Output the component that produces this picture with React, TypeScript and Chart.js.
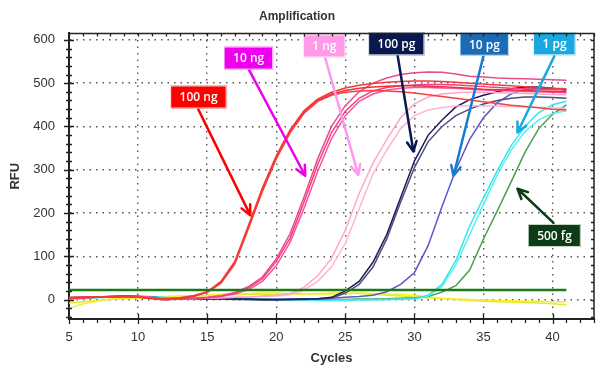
import { useEffect, useRef } from 'react';
import { Chart, registerables } from 'chart.js';
Chart.register(...registerables);

const FONT = "'Liberation Sans', Arial, sans-serif";
const TITLE = 'Amplification';
const X_TITLE = 'Cycles';
const Y_TITLE = 'RFU';
const X_MIN = 5;
const X_MAX = 43;
const Y_MIN = -45;
const Y_MAX = 615;
const X_TICKS = [5, 10, 15, 20, 25, 30, 35, 40];
const Y_TICKS = [0, 100, 200, 300, 400, 500, 600];
const THRESHOLD = 22;
const THRESHOLD_RANGE = [5, 41];

const CYCLES = [5, 6, 7, 8, 9, 10, 11, 12, 13, 14, 15, 16, 17, 18, 19, 20, 21, 22, 23, 24, 25, 26, 27, 28, 29, 30, 31, 32, 33, 34, 35, 36, 37, 38, 39, 40, 41];

const RED_1 = [5, 5, 6, 7, 7, 6, 3, 1, 4, 9, 18, 42, 88, 172, 258, 332, 392, 436, 463, 479, 489, 495, 499, 502, 504, 505, 505, 504, 502, 500, 498, 496, 494, 492, 490, 488, 487];
const RED_2 = [4, 5, 5, 6, 8, 7, 4, 0, 3, 8, 16, 38, 82, 165, 250, 325, 385, 430, 458, 472, 479, 482, 483, 482, 480, 477, 473, 469, 465, 461, 457, 453, 449, 446, 443, 440, 438];
const RED_3 = [3, 4, 6, 7, 8, 6, 2, -1, 2, 7, 17, 40, 85, 168, 253, 328, 388, 432, 460, 475, 483, 488, 491, 493, 494, 494, 493, 492, 490, 488, 486, 485, 484, 483, 482, 481, 480];
const PINK_1 = [4, 4, 5, 6, 6, 5, 3, 2, 2, 3, 5, 9, 16, 30, 52, 94, 152, 236, 325, 400, 448, 480, 500, 512, 520, 524, 526, 525, 521, 516, 514, 512, 511, 510, 509, 508, 507];
const PINK_2 = [3, 4, 5, 5, 6, 6, 4, 2, 1, 3, 4, 8, 15, 27, 48, 88, 142, 224, 312, 386, 435, 465, 482, 490, 494, 496, 497, 497, 496, 494, 492, 490, 488, 487, 486, 485, 485];
const PINK_3 = [4, 5, 5, 6, 7, 6, 3, 1, 1, 2, 4, 7, 13, 23, 42, 78, 132, 210, 296, 372, 425, 458, 475, 484, 488, 490, 490, 489, 488, 486, 484, 483, 482, 481, 480, 479, 478];
const LPINK_1 = [3, 4, 5, 6, 6, 6, 4, 3, 2, 2, 3, 4, 5, 6, 8, 10, 14, 28, 55, 95, 160, 245, 315, 370, 420, 452, 468, 475, 478, 479, 479, 478, 477, 476, 475, 474, 473];
const LPINK_2 = [4, 4, 5, 5, 6, 7, 5, 3, 2, 3, 3, 4, 5, 6, 7, 8, 11, 22, 42, 75, 130, 210, 290, 345, 395, 425, 438, 444, 447, 448, 448, 447, 446, 445, 444, 443, 442];
const NAVY_1 = [4, 5, 6, 7, 8, 7, 5, 3, 2, 2, 2, 2, 1, 1, 0, 0, 0, 1, 2, 5, 20, 42, 86, 150, 235, 320, 380, 415, 445, 462, 472, 480, 487, 491, 491, 488, 484];
const NAVY_2 = [3, 4, 5, 6, 7, 7, 5, 3, 2, 1, 1, 1, 0, 0, -1, -1, 0, 0, 1, 3, 15, 35, 75, 140, 225, 305, 365, 400, 425, 440, 452, 460, 465, 468, 468, 467, 465];
const SLATE = [3, 4, 5, 6, 7, 6, 5, 3, 2, 1, 1, 1, 1, 0, 0, 0, 1, 1, 2, 3, 5, 7, 10, 18, 35, 62, 125, 215, 300, 370, 420, 455, 475, 485, 488, 487, 485];
const CYAN_1 = [2, 3, 4, 6, 8, 8, 6, 4, 3, 2, 2, 1, 1, 1, 0, 0, 0, 0, -1, -1, -1, 0, 0, 0, 1, 2, 10, 35, 90, 170, 235, 298, 355, 400, 432, 450, 458];
const CYAN_2 = [1, 2, 4, 5, 7, 8, 7, 5, 3, 2, 1, 1, 1, 0, 0, -1, -1, -1, -2, -2, -2, -1, -1, 0, 0, 1, 8, 30, 80, 150, 220, 288, 345, 388, 415, 430, 436];
const GREEN = [3, 4, 5, 6, 6, 6, 5, 4, 3, 2, 2, 2, 1, 1, 1, 0, 0, 0, 0, 0, 0, 1, 1, 2, 3, 4, 7, 17, 32, 68, 140, 205, 272, 340, 395, 428, 450];
const YELLOW_1 = [-20, -10, -4, 1, 3, 5, 6, 7, 8, 9, 10, 12, 13, 14, 15, 15, 14, 14, 13, 13, 14, 15, 14, 13, 12, 10, 6, 3, 1, 0, -1, -2, -3, -4, -4, -5, -5];
const YELLOW_2 = [-8, -5, -2, 0, 2, 3, 4, 5, 6, 8, 9, 10, 11, 12, 12, 12, 12, 13, 14, 15, 15, 14, 12, 10, 8, 6, 4, 2, 0, -2, -4, -5, -6, -7, -8, -10, -12];

const SERIES = [
  { values: RED_1, color: '#f23a3a' },
  { values: RED_2, color: '#f44040' },
  { values: RED_3, color: '#e8303c' },
  { values: PINK_1, color: '#ec4a8c' },
  { values: PINK_2, color: '#f23c86' },
  { values: PINK_3, color: '#f5559a' },
  { values: LPINK_1, color: '#ffa6cc' },
  { values: LPINK_2, color: '#ffb4d4' },
  { values: NAVY_1, color: '#1c1c58' },
  { values: NAVY_2, color: '#4e4e7c' },
  { values: SLATE, color: '#5a58c8' },
  { values: CYAN_1, color: '#34e6ee' },
  { values: CYAN_2, color: '#5cf0f4' },
  { values: GREEN, color: '#4e9c4e' },
  { values: YELLOW_1, color: '#f2f020' },
  { values: YELLOW_2, color: '#e8e830' },
];

// Annotations (data coordinates)
const ANN_LABELS = ['100 ng', '10 ng', '1 ng', '100 pg', '10 pg', '1 pg', '500 fg'];
const ANN_BOX_CYCLE = [14.38, 18.0, 23.48, 28.7, 35.07, 40.14, 40.14];
const ANN_BOX_RFU = [468, 558, 586, 591, 590, 591, 148];
const ANN_TAIL_CYCLE = [14.35, 18.04, 23.55, 28.77, 35.0, 40.14, 40.07];
const ANN_TAIL_RFU = [440, 530, 558, 567, 563, 563, 177];
const ANN_TIP_CYCLE = [18.12, 22.1, 25.94, 29.93, 32.83, 37.46, 37.46];
const ANN_TIP_RFU = [195, 286, 288, 342, 286, 386, 256];
const ANN_BOX_COLORS = ['#ff0000', '#ee00ee', '#ff9be8', '#0a1850', '#1a6cb8', '#1aa8e0', '#0d3b14'];
const ANN_ARROW_COLORS = ['#ff0000', '#ee00ee', '#ff99ee', '#0a1850', '#1a7ad0', '#1aa8e0', '#0d3b14'];

const frameTicks = {
  id: 'frameTicks',
  afterDraw(chart: any) {
    const { ctx, chartArea: a, scales } = chart;
    const x = scales.x;
    const y = scales.y;
    ctx.save();
    ctx.strokeStyle = '#222';
    ctx.lineWidth = 1.5;
    ctx.beginPath();
    ctx.moveTo(a.left, a.top);
    ctx.lineTo(a.right, a.top);
    ctx.lineTo(a.right, a.bottom);
    ctx.stroke();
    ctx.lineWidth = 1.3;
    ctx.beginPath();
    for (let c = X_MIN; c <= X_MAX; c += 1) {
      const px = Math.round(x.getPixelForValue(c)) + 0.5;
      const major = c % 5 === 0;
      ctx.moveTo(px, a.bottom - (major ? 5 : 1));
      ctx.lineTo(px, a.bottom + (major ? 5 : 4));
      ctx.moveTo(px, a.top);
      ctx.lineTo(px, a.top + 3);
    }
    for (let v = -40; v <= 600; v += 20) {
      const py = Math.round(y.getPixelForValue(v)) + 0.5;
      const major = v % 100 === 0;
      ctx.moveTo(a.left - (major ? 5 : 3), py);
      ctx.lineTo(a.left + (major ? 5 : 3), py);
      ctx.moveTo(a.right, py);
      ctx.lineTo(a.right - 3, py);
    }
    ctx.stroke();
    ctx.restore();
  },
};

const annotations = {
  id: 'annotations',
  afterDatasetsDraw(chart: any) {
    const { ctx, scales } = chart;
    const x = scales.x;
    const y = scales.y;
    ctx.save();
    ctx.font = "600 12px 'Open Sans', 'Noto Sans', sans-serif";
    ANN_LABELS.forEach((label, i) => {
      const tx = x.getPixelForValue(ANN_TAIL_CYCLE[i]);
      const ty = y.getPixelForValue(ANN_TAIL_RFU[i]);
      const hx = x.getPixelForValue(ANN_TIP_CYCLE[i]);
      const hy = y.getPixelForValue(ANN_TIP_RFU[i]);
      ctx.strokeStyle = ANN_ARROW_COLORS[i];
      ctx.lineWidth = 2.5;
      ctx.lineCap = 'round';
      ctx.lineJoin = 'round';
      ctx.beginPath();
      ctx.moveTo(tx, ty);
      ctx.lineTo(hx, hy);
      const ang = Math.atan2(hy - ty, hx - tx);
      const len = 11;
      const spread = 0.45;
      ctx.moveTo(hx - len * Math.cos(ang - spread), hy - len * Math.sin(ang - spread));
      ctx.lineTo(hx, hy);
      ctx.lineTo(hx - len * Math.cos(ang + spread), hy - len * Math.sin(ang + spread));
      ctx.stroke();

      const bx = x.getPixelForValue(ANN_BOX_CYCLE[i]);
      const by = y.getPixelForValue(ANN_BOX_RFU[i]);
      const w = ctx.measureText(label).width + 18;
      const h = 23;
      ctx.fillStyle = ANN_BOX_COLORS[i];
      ctx.fillRect(bx - w / 2, by - h / 2, w, h);
      ctx.strokeStyle = 'rgba(255,255,255,0.8)';
      ctx.lineWidth = 1;
      ctx.strokeRect(bx - w / 2 + 0.5, by - h / 2 + 0.5, w - 1, h - 1);
      ctx.fillStyle = '#ffffff';
      ctx.textAlign = 'center';
      ctx.textBaseline = 'middle';
      ctx.fillText(label, bx, by + 1);
    });
    ctx.restore();
  },
};

export default function App() {
  const ref = useRef<HTMLCanvasElement>(null);
  useEffect(() => {
    if (!ref.current) return;
    const datasets: any[] = [
      {
        data: THRESHOLD_RANGE.map((c) => ({ x: c, y: THRESHOLD })),
        borderColor: '#1a7a1a',
        borderWidth: 2.5,
        pointRadius: 0,
      },
      ...SERIES.map((s) => ({
        data: CYCLES.map((c, i) => ({ x: c, y: s.values[i] })),
        borderColor: s.color,
        borderWidth: 1.5,
        pointRadius: 0,
        tension: 0,
      })),
    ];
    const chart = new Chart(ref.current, {
      type: 'line',
      data: { datasets },
      options: {
        animation: false,
        responsive: false,
        layout: { padding: { left: 0, right: 16, top: 0, bottom: 0 } },
        plugins: {
          legend: { display: false },
          tooltip: { enabled: false },
          title: {
            display: true,
            text: TITLE,
            color: '#333',
            font: { family: FONT, size: 12, weight: 'bold', lineHeight: 1.2 },
            padding: { top: 9, bottom: 10 },
          },
        },
        scales: {
          x: {
            type: 'linear',
            min: X_MIN,
            max: X_MAX,
            afterBuildTicks: (s: any) => {
              s.ticks = X_TICKS.map((value) => ({ value }));
            },
            afterFit: (s: any) => {
              s.height = 56;
            },
            grid: { color: '#555', lineWidth: 1.4, drawTicks: false },
            border: { display: true, color: '#222', width: 2, dash: [1.5, 5] },
            ticks: { color: '#333', font: { family: FONT, size: 13 }, padding: 11, maxRotation: 0 },
            title: {
              display: true,
              text: X_TITLE,
              color: '#333',
              font: { family: FONT, size: 13, weight: 'bold', lineHeight: 1.2 },
              padding: { top: 0, bottom: 9 },
            },
          },
          y: {
            type: 'linear',
            min: Y_MIN,
            max: Y_MAX,
            afterBuildTicks: (s: any) => {
              s.ticks = Y_TICKS.map((value) => ({ value }));
            },
            afterFit: (s: any) => {
              s.width = 69;
            },
            grid: { color: '#555', lineWidth: 1.4, drawTicks: false },
            border: { display: true, color: '#222', width: 2, dash: [1.5, 5] },
            ticks: { color: '#333', font: { family: FONT, size: 13 }, padding: 14 },
            title: {
              display: true,
              text: Y_TITLE,
              color: '#333',
              font: { family: FONT, size: 13, weight: 'bold', lineHeight: 1.2 },
              padding: { top: 8, bottom: 0 },
            },
          },
        },
      },
      plugins: [frameTicks, annotations],
    });
    return () => chart.destroy();
  }, []);
  return (
    <div style={{ position: 'absolute', left: 0, top: 0, width: 610, height: 375, background: '#fff' }}>
      <canvas ref={ref} width={610} height={375} />
    </div>
  );
}
